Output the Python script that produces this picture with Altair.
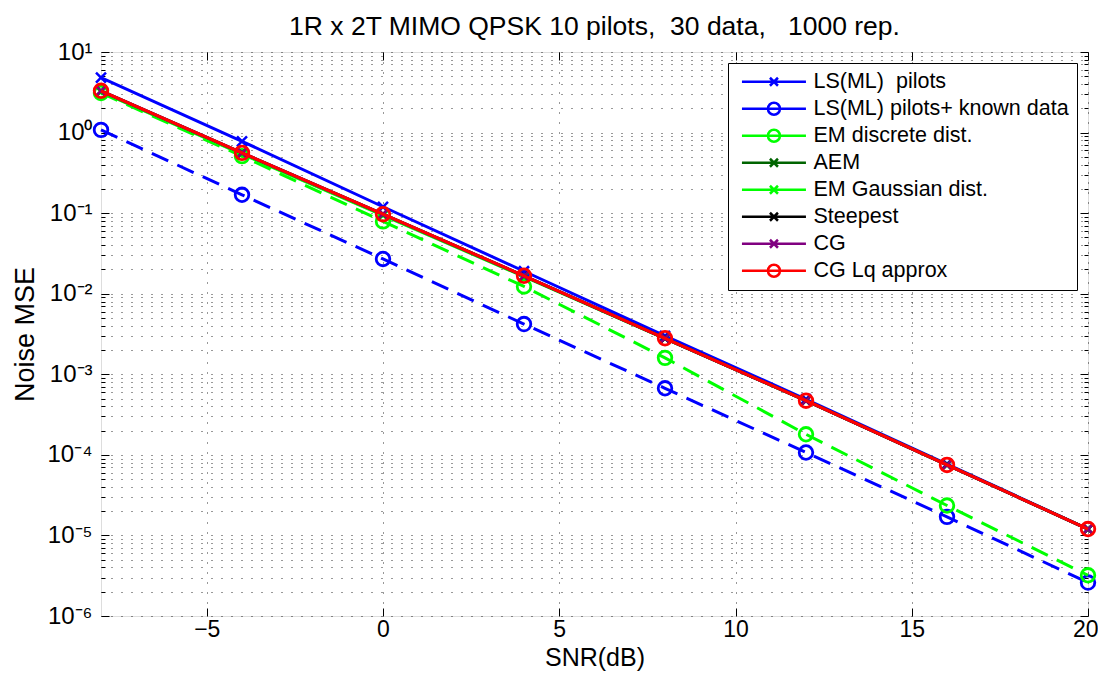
import altair as alt
import pandas as pd

# ---- data ----
snr = [-8, -4, 0, 4, 8, 12, 16, 20]

series_names = [
    "LS(ML)\u00a0 pilots",
    "LS(ML) pilots+ known data",
    "EM discrete dist.",
    "AEM",
    "EM Gaussian dist.",
    "Steepest",
    "CG",
    "CG Lq approx",
]
ls_pilots = [4.8, 0.78, 0.12, 0.019, 3.0e-3, 4.9e-4, 7.7e-5, 1.2e-5]
ls_known = [1.08, 0.169, 0.027, 4.2e-3, 6.7e-4, 1.07e-4, 1.7e-5, 2.6e-6]
em_discrete = [3.1, 0.51, 0.079, 0.0123, 1.6e-3, 1.8e-4, 2.35e-5, 3.2e-6]
aem = [3.25, 0.55, 0.096, 0.0165, 2.8e-3, 4.7e-4, 7.5e-5, 1.2e-5]
em_gauss = [3.2, 0.54, 0.094, 0.0163, 2.78e-3, 4.7e-4, 7.5e-5, 1.2e-5]
steepest = [3.3, 0.56, 0.097, 0.0167, 2.8e-3, 4.7e-4, 7.5e-5, 1.2e-5]
cg = [3.3, 0.56, 0.097, 0.0167, 2.8e-3, 4.7e-4, 7.5e-5, 1.2e-5]
cg_lq = [3.3, 0.56, 0.097, 0.0167, 2.8e-3, 4.7e-4, 7.5e-5, 1.2e-5]
all_values = [ls_pilots, ls_known, em_discrete, aem, em_gauss, steepest, cg, cg_lq]

colors = ["#0000ff", "#0000ff", "#00ff00", "#006400", "#00ff00", "#000000", "#800080", "#ff0000"]
markers = ["x", "o", "o", "x", "x", "x", "x", "o"]
dashed = [False, True, True, False, False, False, False, False]

x_ticks = [-5, 0, 5, 10, 15, 20]
decades = [1e-6, 1e-5, 1e-4, 1e-3, 1e-2, 1e-1, 1e0, 1e1]
minor = [k * d for d in decades[:-1] for k in range(2, 10)]

rows = []
for name, vals in zip(series_names, all_values):
    for s, v in zip(snr, vals):
        rows.append({"series": name, "snr": s, "mse": v})
df = pd.DataFrame(rows)

FONT = "Liberation Sans"
xs = alt.Scale(domain=[-8, 20], nice=False, zero=False)
ys = alt.Scale(type="log", domain=[1e-6, 10], nice=False)

X_PATH = "M-1,-1L1,1M-1,1L1,-1"
O_PATH = "circle"
LEG_X = "M-0.6,0H7.4M2.9,-0.5L3.9,0.5M2.9,0.5L3.9,-0.5"
LEG_O = "M-0.6,0H7.4M4.15,0A0.75,0.75 0 1 1 2.65,0A0.75,0.75 0 1 1 4.15,0"

label_expr = (
    "abs(log(datum.value)/LN10 - round(log(datum.value)/LN10)) < 1e-6 ? "
    "['10\u207b\u2076','10\u207b\u2075','10\u207b\u2074','10\u207b\u00b3','10\u207b\u00b2',"
    "'10\u207b\u00b9','10\u2070','10\u00b9'][round(log(datum.value)/LN10)+6] : ''"
)

GRID_OP = 0.8
main_x_axis = alt.Axis(
    orient="bottom", values=x_ticks, grid=True, gridDash=[1, 9], gridColor="#000",
    gridOpacity=GRID_OP, ticks=False, tickSize=0, domain=False, labelFontSize=23, labelFont=FONT,
    labelColor="#000", labelPadding=2, labelFlush=True, labelFlushOffset=10,
    title="SNR(dB)", titleFontSize=25, titleFont=FONT, titleFontWeight="normal",
    titleColor="#000", titleBaseline="middle", titleY=41,
)
main_y_axis = alt.Axis(
    orient="left", values=decades + minor, grid=True, gridDash=[1, 9], gridColor="#000",
    gridOpacity=GRID_OP, ticks=False, tickSize=0, domain=False, labelExpr=label_expr,
    labelOverlap=False, labelFlush=False, labelBound=False,
    labelFontSize=24, labelFont=FONT, labelColor="#000", labelPadding=9,
    title="Noise MSE", titleFontSize=27, titleFont=FONT, titleFontWeight="normal",
    titleColor="#000", titleBaseline="middle", titleX=-76, titleY=282, titleAngle=270,
)

base = alt.Chart(df)
layers = []
first = True
for name, c, m, d in zip(series_names, colors, markers, dashed):
    sub = base.transform_filter(alt.datum.series == name)
    line_kwargs = dict(color=c, strokeWidth=3)
    if d:
        line_kwargs["strokeDash"] = [18, 10]
    xa = main_x_axis if first else None
    ya = main_y_axis if first else None
    line = sub.mark_line(**line_kwargs).encode(
        x=alt.X("snr:Q", scale=xs, axis=xa),
        y=alt.Y("mse:Q", scale=ys, axis=ya),
    )
    first = False
    if m == "x":
        pt = sub.mark_point(shape=X_PATH, size=100, color=c, strokeWidth=2.5, filled=False, opacity=1)
    else:
        pt = sub.mark_point(shape=O_PATH, size=185, color=c, strokeWidth=2.8, filled=False, opacity=1)
    pt = pt.encode(
        x=alt.X("snr:Q", scale=xs, axis=None),
        y=alt.Y("mse:Q", scale=ys, axis=None),
    )
    layers += [line, pt]

# legend-only layer
legend_layer = base.transform_filter("false").mark_point(filled=False, opacity=1).encode(
    x=alt.X("snr:Q", scale=xs, axis=None),
    y=alt.Y("mse:Q", scale=ys, axis=None),
    color=alt.Color("series:N", scale=alt.Scale(domain=series_names, range=colors), legend=alt.Legend(
        title=None, orient="top-right", offset=11, fillColor="white", strokeColor="black",
        padding=8, labelFontSize=21.5, labelFont=FONT, labelColor="#000", symbolSize=256,
        symbolStrokeWidth=2.5, labelOffset=56, rowPadding=4, labelLimit=400,
    )),
    shape=alt.Shape("series:N", scale=alt.Scale(domain=series_names,
                    range=[LEG_X if m == "x" else LEG_O for m in markers])),
)
layers.append(legend_layer)

# inward ticks
def tick_layer(channel, orient, size, values):
    ax = alt.Axis(orient=orient, offset=-size, tickSize=size, values=values, labels=False,
                  domain=False, grid=False, title="", tickColor="#000", tickWidth=1)
    if channel == "y":
        enc = dict(x=alt.X("snr:Q", scale=xs, axis=None), y=alt.Y("mse:Q", scale=ys, axis=ax))
    else:
        enc = dict(x=alt.X("snr:Q", scale=xs, axis=ax), y=alt.Y("mse:Q", scale=ys, axis=None))
    return base.transform_filter("false").mark_point().encode(**enc)

layers += [
    tick_layer("y", "left", 8, decades),
    tick_layer("y", "right", 8, decades),
    tick_layer("y", "left", 4, minor),
    tick_layer("y", "right", 4, minor),
    tick_layer("x", "bottom", 8, x_ticks),
    tick_layer("x", "top", 8, x_ticks),
]

chart = alt.layer(*layers).resolve_axis(x="independent", y="independent").properties(
    width=987, height=564,
    autosize=alt.AutoSizeParams(type="none"),
    padding={"left": 93, "top": 44, "right": 10, "bottom": 55},
    title=alt.TitleParams(
        "1R x 2T MIMO QPSK 10 pilots,\u00a0 30 data,\u00a0\u00a0 1000 rep.",
        fontSize=26.5, font=FONT, fontWeight="normal", color="#000", anchor="middle", offset=0,
    ),
).configure_view(stroke="black", strokeWidth=1.5).configure(background="white")

chart.save("out.html", embed_options={"renderer": "svg", "actions": False})
